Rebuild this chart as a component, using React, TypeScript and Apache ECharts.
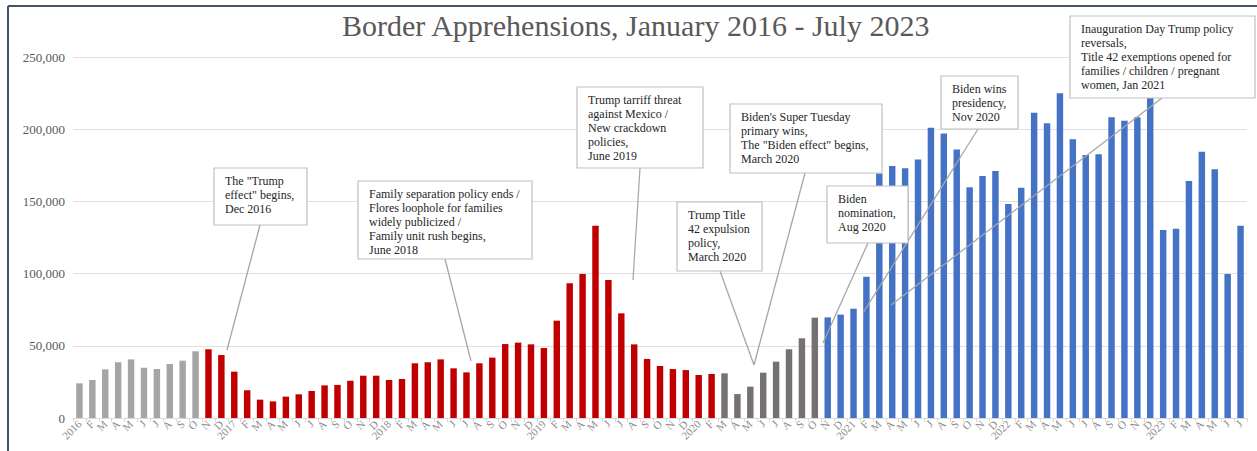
import React, { useEffect, useRef } from "react";
import * as echarts from "echarts";

// ---- Data ----
const years = ["2016", "2017", "2018", "2019", "2020", "2021", "2022", "2023"];
const monthLetters = ["F", "M", "A", "M", "J", "J", "A", "S", "O", "N", "D"];
const lastYearMonths = 7; // Jan–Jul 2023

// Jan 2016 – Oct 2016
const preElection = [24000, 26300, 33700, 38600, 40600, 34800, 33900, 37400, 39700, 46200];
// Nov 2016 – Feb 2020
const trumpEra = [
  47600, 43600, 32100, 19200, 12700, 11500, 14800, 16400, 18700, 22600, 22900, 25800, 29300, 29300,
  26300, 27000, 37900, 38600, 40600, 34400, 31600, 37900, 41800, 51200, 52200, 51000, 48500,
  67400, 93300, 99700, 133200, 95600, 72500, 51000, 40900, 36000, 33900, 33200, 29800, 30500,
];
// Mar 2020 – Oct 2020
const transition = [30900, 16600, 21700, 31400, 39000, 47600, 55200, 69500];
// Nov 2020 – Jul 2023
const bidenEra = [
  69700, 71600, 75700, 97900, 169400, 174500, 172900, 179100, 201000, 197100, 186000, 159800,
  167600, 171100, 148200, 159500, 211400, 204100, 224900, 193000, 182100, 182600, 208200, 205900,
  208200, 226000, 130200, 131100, 164100, 184400, 172200, 99700, 133200,
];

const yTicks = [0, 50000, 100000, 150000, 200000, 250000];

const annotations = [
  { text: 'The "Trump\neffect" begins,\nDec 2016', box: [214, 168, 93, 57], from: [260, 225], to: [227, 350] },
  {
    text: "Family separation policy ends /\nFlores loophole for families\nwidely publicized /\nFamily unit rush begins,\nJune 2018",
    box: [358, 181, 174, 78], from: [445, 259], to: [471, 361],
  },
  {
    text: "Trump tarriff threat\nagainst Mexico /\nNew crackdown\npolicies,\nJune 2019",
    box: [577, 87, 126, 81], from: [640, 168], to: [633, 280],
  },
  { text: "Trump Title\n42 expulsion\npolicy,\nMarch 2020", box: [677, 202, 85, 69], from: [720, 271], to: [754, 365] },
  {
    text: "Biden's Super Tuesday\nprimary wins,\nThe \"Biden effect\" begins,\nMarch 2020",
    box: [730, 104, 152, 69], from: [805, 173], to: [754, 365],
  },
  { text: "Biden\nnomination,\nAug 2020", box: [827, 186, 81, 57], from: [868, 243], to: [823, 343] },
  { text: "Biden wins\npresidency,\nNov 2020", box: [941, 76, 77, 53], from: [978, 129], to: [863, 313] },
  {
    text: "Inauguration Day Trump policy\nreversals,\nTitle 42 exemptions opened for\nfamilies / children / pregnant\nwomen, Jan 2021",
    box: [1070, 16, 185, 82], from: [1162, 98], to: [891, 305],
  },
];

const COLORS = { pre: "#a5a5a5", trump: "#c00000", transition: "#767171", biden: "#4472c4" };
const FONT = "Liberation Serif";

function buildCategories(): string[] {
  const cats: string[] = [];
  years.forEach((y, i) => {
    const n = i === years.length - 1 ? lastYearMonths : 12;
    cats.push(y);
    for (let m = 1; m < n; m++) cats.push(monthLetters[m - 1]);
  });
  return cats;
}

export default function App() {
  const ref = useRef<HTMLDivElement>(null);

  useEffect(() => {
    if (!ref.current) return;
    const chart = echarts.init(ref.current, undefined, { renderer: "svg" });
    const categories = buildCategories();
    const data: any[] = [];
    const push = (arr: number[], color: string) =>
      arr.forEach((v) => data.push({ value: v, itemStyle: { color } }));
    push(preElection, COLORS.pre);
    push(trumpEra, COLORS.trump);
    push(transition, COLORS.transition);
    push(bidenEra, COLORS.biden);

    const graphics: any[] = [
      { type: "line", shape: { x1: 8, y1: 6, x2: 1257, y2: 6 }, style: { stroke: "#44546a", lineWidth: 2 }, z: 100 },
      { type: "line", shape: { x1: 8, y1: 6, x2: 8, y2: 451 }, style: { stroke: "#44546a", lineWidth: 2 }, z: 100 },
    ];
    annotations.forEach((a) => {
      graphics.push({
        type: "line",
        shape: { x1: a.from[0], y1: a.from[1], x2: a.to[0], y2: a.to[1] },
        style: { stroke: "#a6a6a6", lineWidth: 1.3 },
        z: 50,
      });
    });
    annotations.forEach((a) => {
      graphics.push({
        type: "rect",
        shape: { x: a.box[0], y: a.box[1], width: a.box[2], height: a.box[3] },
        style: { fill: "#ffffff", stroke: "#bfbfbf", lineWidth: 1.2 },
        z: 60,
      });
      graphics.push({
        type: "text",
        x: a.box[0] + 11,
        y: a.box[1] + 6,
        style: {
          text: a.text,
          fontFamily: FONT,
          fontSize: 12,
          lineHeight: 14,
          fill: "#262626",
          verticalAlign: "top",
        },
        z: 61,
      });
    });

    chart.setOption({
      animation: false,
      title: {
        text: "Border Apprehensions, January 2016 - July 2023",
        left: 337,
        top: 5,
        textStyle: { fontFamily: FONT, fontSize: 30, fontWeight: "normal", color: "#595959" },
      },
      grid: { left: 73, right: 10, top: 57, bottom: 33, containLabel: false },
      xAxis: {
        type: "category",
        data: categories,
        axisLine: { lineStyle: { color: "#d9d9d9" } },
        axisTick: { show: true, length: 4, lineStyle: { color: "#d9d9d9" } },
        axisLabel: {
          interval: 0,
          rotate: 45,
          fontFamily: FONT,
          fontSize: 11,
          color: "#8c8c8c",
          margin: 4,
        },
      },
      yAxis: {
        type: "value",
        min: yTicks[0],
        max: yTicks[yTicks.length - 1],
        interval: yTicks[1] - yTicks[0],
        axisLine: { show: false },
        axisTick: { show: false },
        splitLine: { lineStyle: { color: "#e0e0e0" } },
        axisLabel: {
          fontFamily: FONT,
          fontSize: 13,
          color: "#595959",
          margin: 8,
          formatter: (v: number) => v.toLocaleString("en-US"),
        },
      },
      series: [
        {
          type: "bar",
          data,
          barWidth: "50%",
        },
      ],
      graphic: graphics,
    });
    return () => chart.dispose();
  }, []);

  return (
    <div
      ref={ref}
      style={{ position: "absolute", left: 0, top: 0, width: 1257, height: 451, background: "#ffffff" }}
    />
  );
}
